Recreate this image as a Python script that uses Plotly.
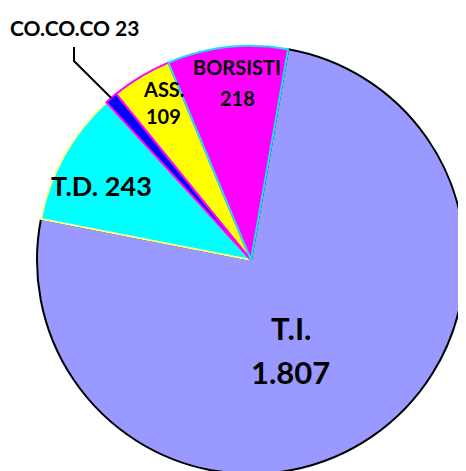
import numpy as np
import plotly.graph_objects as go

labels = ["T.I.", "T.D.", "CO.CO.CO", "ASS.", "BORSISTI"]
values = [1807, 243, 23, 109, 218]
value_text = ["1.807", "243", "23", "109", "218"]

colors = ["#9999FF", "#00FFFF", "#0000FF", "#FFFF00", "#FF00FF"]
border_colors = ["#000000", "#FFFF99", "#FF00FF", "#FF00FF", "#22DDEE"]

W, H = 466, 471
OFF = 8                      # page body margin offset
cx, cy, R = 251, 260, 214    # desired page-pixel centre and radius
rotation = 10


def to_paper(px, py):
    return (px - OFF) / W, 1 - (py - OFF) / H


fcx, fcy = cx - OFF, cy - OFF
fig = go.Figure(go.Pie(
    labels=labels, values=values, sort=False, direction="clockwise",
    rotation=rotation, textinfo="none", hoverinfo="label+value",
    marker=dict(colors=colors, line=dict(color=border_colors, width=2)),
    domain=dict(x=[(fcx - R) / W, (fcx + R) / W],
                y=[(H - fcy - R) / H, (H - fcy + R) / H]),
    showlegend=False,
))

vals = np.array(values, dtype=float)
cum = np.cumsum(vals) - vals / 2
mid_deg = rotation + cum / vals.sum() * 360.0
radial = [0.46, 0.78, None, 0.84, 0.83]
ang_off = [10.5, -2.6, 0, 1.9, 1.9]
sizes = [31, 27, 21, 20, 20]
line_gap = [44, 0, 0, 27, 31]
lines = [[labels[0], value_text[0]],
         [labels[1] + " " + value_text[1]],
         None,
         [labels[3], value_text[3]],
         [labels[4], value_text[4]]]

font_family = "Lato"
for i in range(len(labels)):
    if lines[i] is None:
        continue
    a = np.deg2rad(mid_deg[i] + ang_off[i])
    px = cx + radial[i] * R * np.sin(a)
    py = cy - radial[i] * R * np.cos(a)
    n = len(lines[i])
    for k, t in enumerate(lines[i]):
        ly = py + (k - (n - 1) / 2) * line_gap[i]
        x, y = to_paper(px, ly)
        fig.add_annotation(
            x=x, y=y, xref="paper", yref="paper",
            text="<b>" + t + "</b>", showarrow=False,
            font=dict(family=font_family, size=sizes[i], color="#000000"),
            xanchor="center", yanchor="middle", align="center",
        )

i = 2
x, y = to_paper(74, 28)
fig.add_annotation(
    x=x, y=y, xref="paper", yref="paper",
    text="<b>" + labels[i] + " " + value_text[i] + "</b>", showarrow=False,
    font=dict(family=font_family, size=sizes[i], color="#000000"),
    xanchor="center", yanchor="middle",
)
a = np.deg2rad(mid_deg[i])
ex = cx + R * np.sin(a)
ey = cy - R * np.cos(a)
p1 = to_paper(74, 47)
p2 = to_paper(74, 61)
p3 = to_paper(ex, ey)
fig.add_shape(
    type="path", xref="paper", yref="paper",
    path=f"M {p1[0]} {p1[1]} L {p2[0]} {p2[1]} L {p3[0]} {p3[1]}",
    line=dict(color="#000000", width=2),
)

fig.update_layout(
    width=W, height=H, margin=dict(l=0, r=0, t=0, b=0),
    paper_bgcolor="#FFFFFF", plot_bgcolor="#FFFFFF",
)
fig.write_html("out.html",
               post_script="document.body.style.overflow='hidden';")
